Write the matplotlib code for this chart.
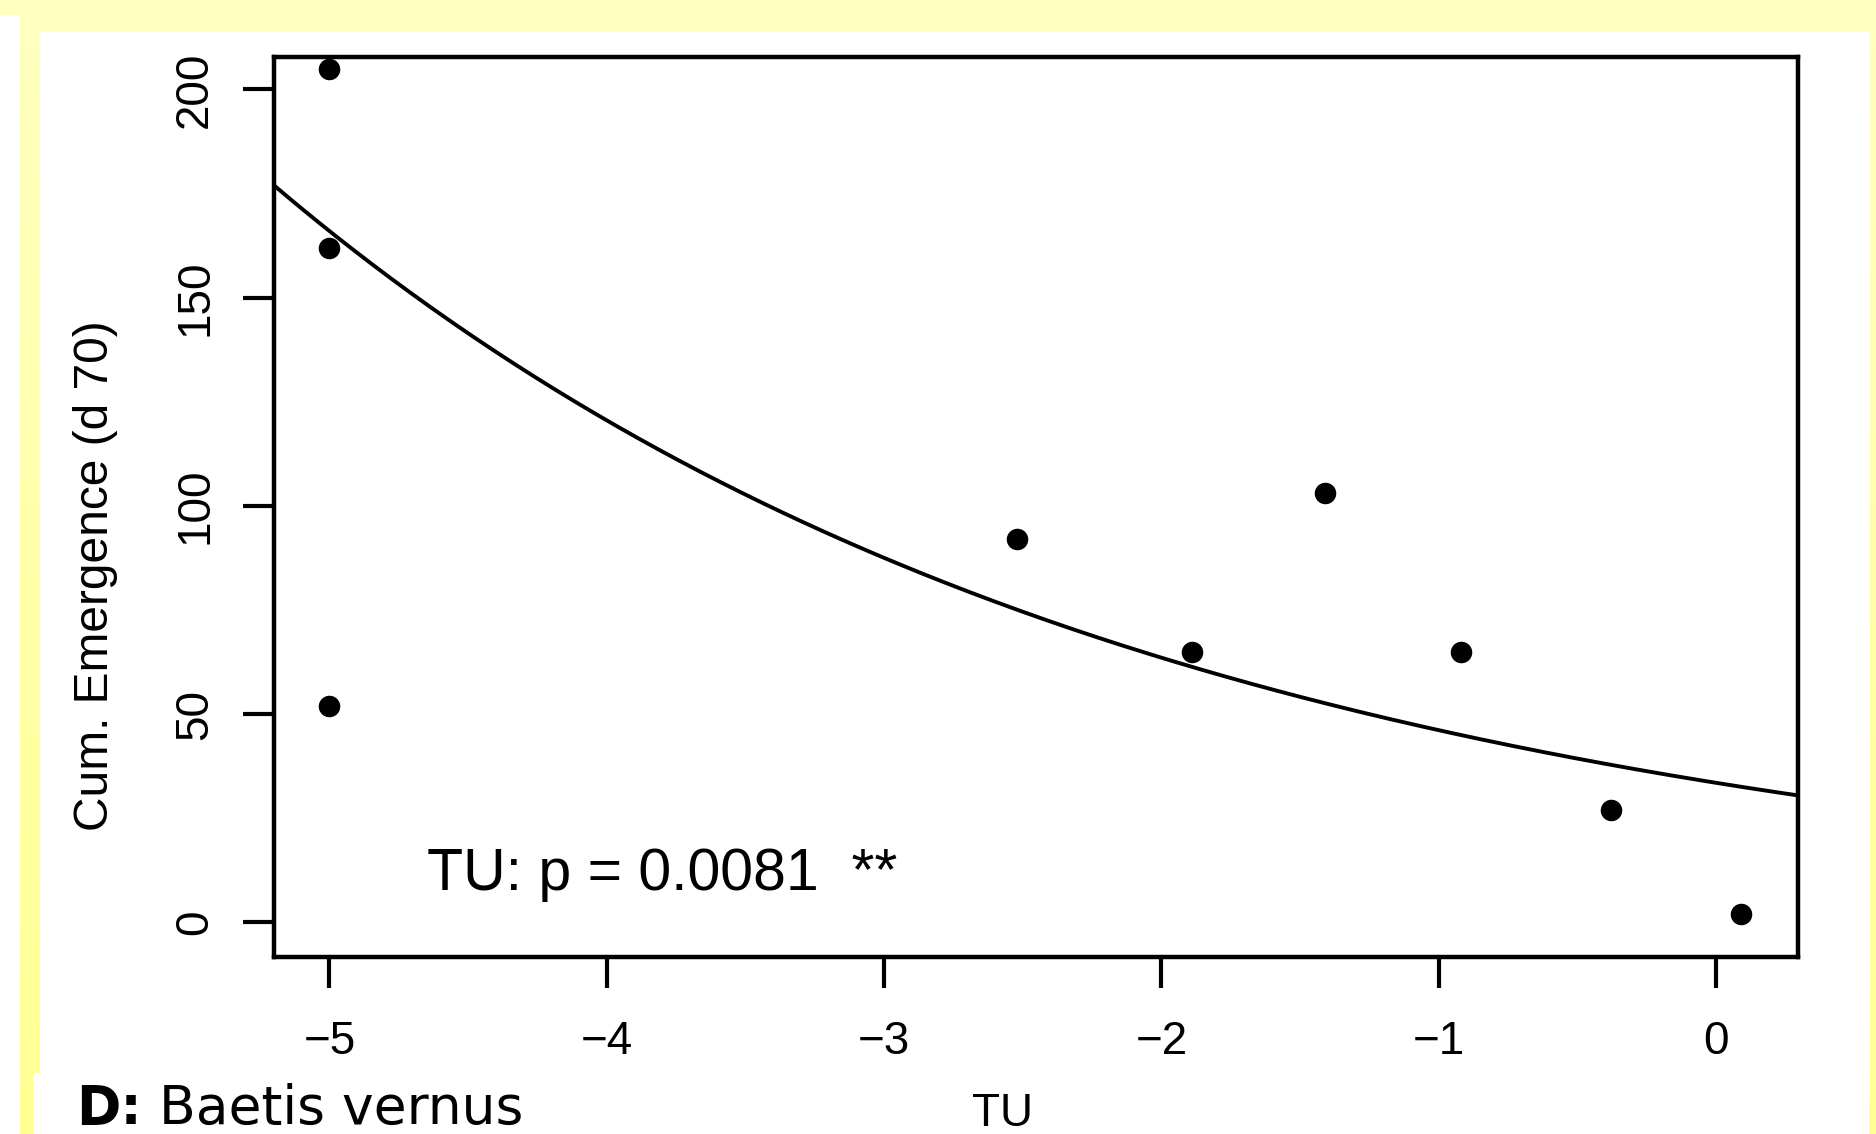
import numpy as np
import matplotlib
matplotlib.use("Agg")
import matplotlib.pyplot as plt

# ---------------- data ----------------
tu_values = [-5.0, -5.0, -5.0, -2.52, -1.89, -1.41, -0.92, -0.38, 0.09]
emergence = [205, 162, 52, 92, 65, 103, 65, 27, 2]
# fitted model  y = exp(a + b*TU)
fit_intercept = 3.512
fit_slope = -0.320
x_ticks = [-5, -4, -3, -2, -1, 0]
y_ticks = [0, 50, 100, 150, 200]
x_label = "TU"
y_label = "Cum. Emergence (d 70)"
annotation = "TU: p = 0.0081  **"
panel_bold = "D:"
panel_rest = "Baetis vernus"

W, H = 1876, 1134
fig = plt.figure(figsize=(W / 100, H / 100), dpi=100)
fig.patch.set_facecolor("white")

# ---------------- slide background ----------------
bg = fig.add_axes([0, 0, 1, 1], zorder=-10)
bg.axis("off")
img = np.ones((H, W, 3))
yy = np.linspace(0, 1, H)[:, None]
blue = (192 - 45 * yy) / 255.0
def fill(x0, y0, x1, y1):
    img[y0:y1, x0:x1, 2] = blue[y0:y1]
fill(0, 0, W, 15)
fill(20, 15, W, 32)
fill(20, 32, 40, 1073)
fill(20, 1073, 33, H)
fill(1869, 32, W, 1100)
fill(1868, 1100, W, H)
bg.imshow(img, aspect="auto", extent=(0, 1, 0, 1), interpolation="nearest")
bg.set_xlim(0, 1)
bg.set_ylim(0, 1)

# ---------------- main axes ----------------
left, right, top, bottom = 274, 1798, 57, 957
ax = fig.add_axes([left / W, 1 - bottom / H, (right - left) / W, (bottom - top) / H], zorder=1)
ax.set_facecolor("white")

ax.scatter(tu_values, emergence, s=15.5 ** 2, color="black", zorder=3, linewidths=0)

xmin, xmax = -5.2, 0.295
ax.set_xlim(xmin, xmax)
ax.set_ylim(-8.3, 207.8)
xs = np.linspace(xmin, xmax + 0.02, 300)
ax.plot(xs, np.exp(fit_intercept + fit_slope * xs), color="black", lw=2.8, zorder=2)

lab_font = "Liberation Sans"
ax.set_xticks(x_ticks)
ax.set_xticklabels([("\u2212" + str(abs(v))) if v < 0 else str(v) for v in x_ticks],
                   fontsize=33, family=lab_font)
ax.set_yticks(y_ticks)
ax.set_yticklabels([str(v) for v in y_ticks], fontsize=33, family=lab_font,
                   rotation=90, va="center")
ax.tick_params(axis="x", length=22, width=3, pad=23, color="black")
ax.tick_params(axis="y", length=22, width=3, pad=19, color="black")
for sp in ax.spines.values():
    sp.set_linewidth(3.2)

ax.text(-4.648, 7.9, annotation, fontsize=42.5, family=lab_font,
        ha="left", va="baseline")

fig.text(1002 / W, 1 - 1126 / H, x_label, fontsize=33, family=lab_font,
         ha="center", va="baseline")
fig.text(96 / W, 1 - 576 / H, y_label, fontsize=34.5, family=lab_font,
         rotation=90, ha="center", va="center")

fig.text(76 / W, 1 - 1124 / H, panel_bold, fontsize=38.5, family="DejaVu Sans",
         fontweight="bold", ha="left", va="baseline")
fig.text(159 / W, 1 - 1124 / H, panel_rest, fontsize=38.5, family="DejaVu Sans",
         ha="left", va="baseline")

fig.savefig("out.png", dpi=100, facecolor=fig.get_facecolor())
